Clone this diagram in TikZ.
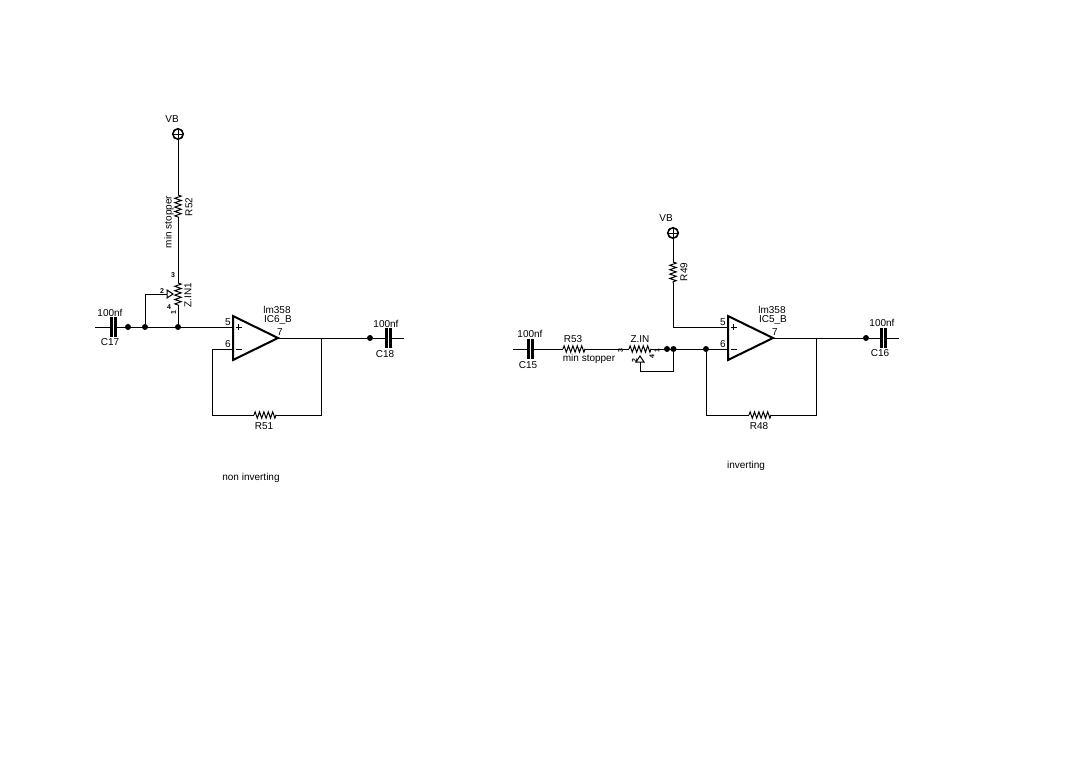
\documentclass[tikz,border=0pt]{standalone}
\usepackage{fontspec}
\setmainfont{Liberation Sans}
\usetikzlibrary{calc,decorations.pathmorphing}
\tikzset{
  x=1pt,y=-1pt,
  wire/.style={line width=1pt,black},
  zig/.style={line width=1pt,decorate,decoration={zigzag,segment length=4.4pt,amplitude=3.2pt}},
  plate/.style={line width=3pt},
  amp/.style={line width=2pt,line join=miter},
  lbl/.style={font=\fontsize{10}{11}\selectfont,inner sep=0pt,text=black},
  tiny/.style={font=\bfseries\fontsize{7}{8}\selectfont,inner sep=0pt},
  dot/.style={circle,fill=black,inner sep=0pt,minimum size=6pt},
  tri/.style={line width=1pt},
  vb/.style={circle,draw,line width=1.6pt,inner sep=0pt,minimum size=10.5pt,path picture={
    \draw[line width=1pt] (path picture bounding box.north) -- (path picture bounding box.south)
      (path picture bounding box.west) -- (path picture bounding box.east);}}
}
\begin{document}
\begin{tikzpicture}
\useasboundingbox (0,0) rectangle (1090,760);
\fill[white] (0,0) rectangle (1090,760);
% ---------- left circuit
\node[vb] (vbL) at (178,134) {};
\node[lbl] (vbLt) at (172,119) {VB};
\coordinate (r52a) at (178,195);
\coordinate (r52b) at (178,217);
\coordinate (zLa) at (178,283);
\coordinate (zLb) at (178,305);
\coordinate (jL) at (178,327);
\coordinate (inL) at (95,327);
\coordinate (c17a) at (111,327);
\coordinate (c17b) at (115,327);
\coordinate (plusL) at (233,327);
\coordinate (minusL) at (233,349);
\coordinate (ampLt) at (233,316);
\coordinate (ampLb) at (233,360);
\coordinate (ampLo) at (278,338);
\coordinate (wipL) at (167,294);
\coordinate (wipLt) at (173,294);
\coordinate (wipLc) at (145,294);
\node[dot] (d1) at (128,327) {};
\node[dot] (d2) at (145,327) {};
\node[dot] (d3) at (jL) {};
\node[dot] (d4) at (370,338) {};
\coordinate (c18a) at (386,338);
\coordinate (c18b) at (390,338);
\coordinate (outL) at (404,338);
\coordinate (fbL1) at (212,349);
\coordinate (fbL2) at (212,415);
\coordinate (r51a) at (254,415);
\coordinate (r51b) at (276,415);
\coordinate (fbL3) at (321,415);
\coordinate (fbL4) at (321,338);
\draw[wire] (vbL) -- (r52a);
\draw[zig] (r52a) -- (r52b);
\draw[wire] (r52b) -- (zLa);
\draw[zig] (zLa) -- (zLb);
\draw[wire] (zLb) -- (jL);
\draw[wire] (inL) -- (c17a);
\draw[wire] (c17b) -- (plusL);
\draw[plate] ($(c17a)+(0,-10)$) -- ($(c17a)+(0,10)$);
\draw[plate] ($(c17b)+(0,-10)$) -- ($(c17b)+(0,10)$);
\draw[wire] (d2) -- (wipLc) -- (wipL);
\draw[tri] (wipL) ++(0,-4) -- (wipLt) -- ++(-6,4) -- cycle;
\draw[amp] (ampLt) -- (ampLo) -- (ampLb) -- cycle;
\draw[wire] (ampLo) -- (d4) -- (c18a);
\draw[wire] (c18b) -- (outL);
\draw[plate] ($(c18a)+(0,-10)$) -- ($(c18a)+(0,10)$);
\draw[plate] ($(c18b)+(0,-10)$) -- ($(c18b)+(0,10)$);
\draw[wire] (minusL) -- (fbL1) -- (fbL2) -- (r51a);
\draw[zig] (r51a) -- (r51b);
\draw[wire] (r51b) -- (fbL3) -- (fbL4);
\draw[wire] (235.5,327) -- (242,327) (238.8,323.8) -- (238.8,330.2) (235.5,349) -- (242,349);
\node[lbl,rotate=90] (t1) at (169,222) {min stopper};
\node[lbl,rotate=90] (t2) at (189,207) {R52};
\node[lbl,rotate=90] (t3) at (188,295) {Z.IN1};
\node[tiny] (t4) at (173,275) {3};
\node[tiny] (t5) at (162,291) {2};
\node[tiny] (t6) at (169,307) {4};
\node[tiny,rotate=90] (t7) at (173.5,313) {1};
\node[lbl] (t8) at (110,313) {100nf};
\node[lbl] (t9) at (110,342) {C17};
\node[lbl] (t10) at (228,322) {5};
\node[lbl] (t11) at (228,344) {6};
\node[lbl] (t12) at (280,332) {7};
\node[lbl] (t13) at (277,310) {lm358};
\node[lbl] (t14) at (278,320) {IC6\_B};
\node[lbl] (t15) at (386,324) {100nf};
\node[lbl] (t16) at (385,354) {C18};
\node[lbl] (t17) at (264,426) {R51};
\node[lbl] (t18) at (251,478) {non inverting};
% ---------- right circuit
\node[vb] (vbR) at (673,233) {};
\node[lbl] (vbRt) at (666,218) {VB};
\coordinate (r49a) at (673,262);
\coordinate (r49b) at (673,283);
\coordinate (cR) at (673,327);
\coordinate (plusR) at (728,327);
\coordinate (minusR) at (728,349);
\coordinate (ampRt) at (728,316);
\coordinate (ampRb) at (728,360);
\coordinate (ampRo) at (773,338);
\coordinate (inR) at (513,349);
\coordinate (c15a) at (528,349);
\coordinate (c15b) at (532,349);
\coordinate (r53a) at (563,349);
\coordinate (r53b) at (585,349);
\coordinate (zRa) at (629,349);
\coordinate (zRb) at (651,349);
\node[dot] (d5) at (667,349) {};
\node[dot] (d6) at (673.5,349) {};
\node[dot] (d7) at (706,349) {};
\node[dot] (d8) at (866,338) {};
\coordinate (wipR) at (640,362);
\coordinate (wipRt) at (640,356);
\coordinate (wipRc) at (640,371);
\coordinate (wipRd) at (673.5,371);
\coordinate (c16a) at (881,338);
\coordinate (c16b) at (885,338);
\coordinate (outR) at (899,338);
\coordinate (fbR2) at (706,415);
\coordinate (r48a) at (749,415);
\coordinate (r48b) at (771,415);
\coordinate (fbR3) at (816,415);
\coordinate (fbR4) at (816,338);
\draw[wire] (vbR) -- (r49a);
\draw[zig] (r49a) -- (r49b);
\draw[wire] (r49b) -- (cR) -- (plusR);
\draw[wire] (inR) -- (c15a);
\draw[wire] (c15b) -- (r53a);
\draw[plate] ($(c15a)+(0,-10)$) -- ($(c15a)+(0,10)$);
\draw[plate] ($(c15b)+(0,-10)$) -- ($(c15b)+(0,10)$);
\draw[zig] (r53a) -- (r53b);
\draw[wire] (r53b) -- (zRa);
\draw[zig] (zRa) -- (zRb);
\draw[wire] (zRb) -- (minusR);
\draw[wire] (wipR) -- (wipRc) -- (wipRd) -- (d6);
\draw[tri] (wipR) ++(-4,0) -- (wipRt) -- ++(4,6) -- cycle;
\draw[amp] (ampRt) -- (ampRo) -- (ampRb) -- cycle;
\draw[wire] (ampRo) -- (d8) -- (c16a);
\draw[wire] (c16b) -- (outR);
\draw[plate] ($(c16a)+(0,-10)$) -- ($(c16a)+(0,10)$);
\draw[plate] ($(c16b)+(0,-10)$) -- ($(c16b)+(0,10)$);
\draw[wire] (d7) -- (fbR2) -- (r48a);
\draw[zig] (r48a) -- (r48b);
\draw[wire] (r48b) -- (fbR3) -- (fbR4);
\draw[wire] (730.5,327) -- (737,327) (733.8,323.8) -- (733.8,330.2) (730.5,349) -- (737,349);
\node[lbl] (u1) at (530,334) {100nf};
\node[lbl] (u2) at (528,365) {C15};
\node[lbl] (u3) at (573,339) {R53};
\node[lbl] (u4) at (589,359) {min stopper};
\node[lbl] (u5) at (640,339) {Z.IN};
\node[tiny,rotate=90] (u6) at (620.5,351) {3};
\node[tiny,rotate=90] (u7) at (634.5,361) {2};
\node[tiny,rotate=90] (u8) at (652,357) {4};
\node[tiny,rotate=90] (u9) at (657,351) {1};
\node[lbl,rotate=90] (u10) at (684,272) {R49};
\node[lbl] (u11) at (723,322) {5};
\node[lbl] (u12) at (723,344) {6};
\node[lbl] (u13) at (775,332) {7};
\node[lbl] (u14) at (772,310) {lm358};
\node[lbl] (u15) at (773,320) {IC5\_B};
\node[lbl] (u16) at (882,323) {100nf};
\node[lbl] (u17) at (880,353) {C16};
\node[lbl] (u18) at (759,426) {R48};
\node[lbl] (u19) at (746,466) {inverting};
\end{tikzpicture}
\end{document}
